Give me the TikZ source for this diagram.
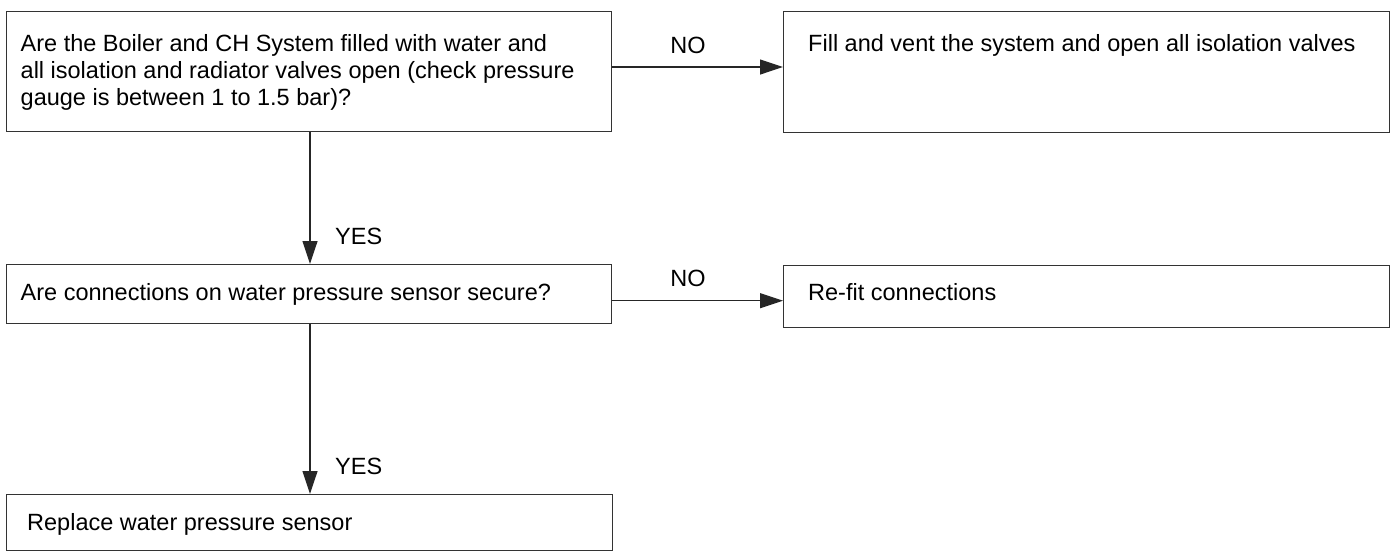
\documentclass[tikz,border=0pt]{standalone}
\usepackage{fontspec}
\setmainfont{Liberation Sans}
\usetikzlibrary{arrows.meta}
\begin{document}
\begin{tikzpicture}[x=1pt,y=-1pt,
  box/.style={draw=black!80, line width=1.4pt, inner sep=0pt, anchor=north west},
  txt/.style={inner sep=0pt, anchor=base west, align=left, font=\fontsize{23.5}{26.7}\selectfont},
  lbl/.style={inner sep=0pt, anchor=base, font=\fontsize{23.5}{26.7}\selectfont},
  arr/.style={draw=black!85, line width=1.2pt, -{Triangle[length=23pt,width=15pt]}}
]
\useasboundingbox (0,0) rectangle (1393,552);
% boxes
\node[box, minimum width=605pt, minimum height=120pt] (b1) at (6,11) {};
\node[box, minimum width=606pt, minimum height=121pt] (b2) at (783,11) {};
\node[box, minimum width=605pt, minimum height=59pt] (b3) at (6,264) {};
\node[box, minimum width=606pt, minimum height=62pt] (b4) at (783,265) {};
\node[box, minimum width=606pt, minimum height=56pt] (b5) at (6,494) {};
% texts (base anchor of a multi-line node is the last line's baseline)
\node[txt] (t1) at (20.5,105.1) {Are the Boiler and CH System filled with water and\\all isolation and radiator valves open (check pressure\\gauge is between 1 to 1.5 bar)?};
\node[txt] (t2) at (808,51.7) {Fill and vent the system and open all isolation valves};
\node[txt] (t3) at (20.5,300) {Are connections on water pressure sensor secure?};
\node[txt] (t4) at (808,300) {Re-fit connections};
\node[txt] (t5) at (27,530) {Replace water pressure sensor};
% connectors
\coordinate (a1s) at (b1.east |- 0,67);
\coordinate (a1e) at (b2.west |- 0,67);
\draw[arr] (a1s) -- (a1e);
\node[lbl] (no1) at (688,53) {NO};
\coordinate (a2s) at (b3.east |- 0,300.7);
\coordinate (a2e) at (b4.west |- 0,300.7);
\draw[arr] (a2s) -- (a2e);
\node[lbl] (no2) at (688,286.7) {NO};
\coordinate (vx) at (310,0);
\draw[arr] (b1.south -| vx) -- (b3.north -| vx);
\node[txt] (yes1) at (335,244) {YES};
\draw[arr] (b3.south -| vx) -- (b5.north -| vx);
\node[txt] (yes2) at (335,474) {YES};
\end{tikzpicture}
\end{document}
